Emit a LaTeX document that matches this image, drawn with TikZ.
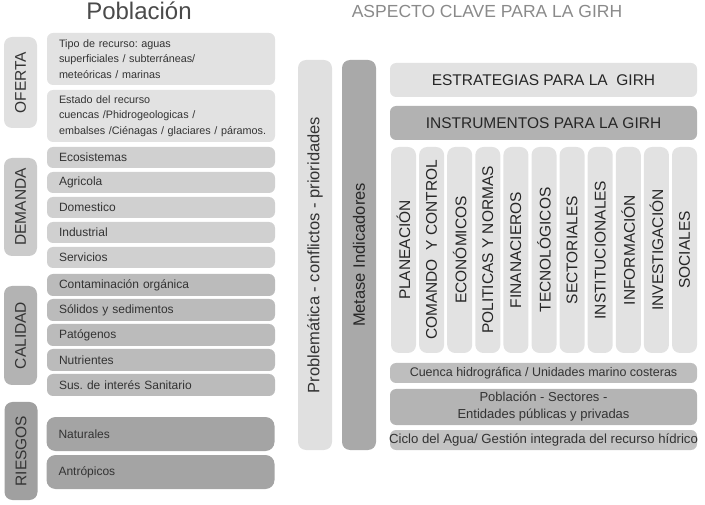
\documentclass[tikz,border=0pt]{standalone}
\usepackage{fontspec}
\setmainfont{Liberation Sans}
\frenchspacing
\definecolor{ofe}{HTML}{E2E2E2}
\definecolor{dem}{HTML}{D0D0D0}
\definecolor{cal}{HTML}{BBBBBB}
\definecolor{rie}{HTML}{A4A4A4}
\definecolor{lab1}{HTML}{E0E0E0}
\definecolor{lab2}{HTML}{CBCBCB}
\definecolor{lab3}{HTML}{B3B3B3}
\definecolor{lab4}{HTML}{A0A0A0}
\definecolor{metc}{HTML}{A9A9A9}
\definecolor{instc}{HTML}{B2B2B2}
\definecolor{cuen}{HTML}{BEBEBE}
\definecolor{pobc}{HTML}{B4B4B4}
\definecolor{cicl}{HTML}{C3C3C3}
\definecolor{txt}{HTML}{333333}
\definecolor{ttl}{HTML}{4A4A4A}
\definecolor{ttl2}{HTML}{8A8A8A}
\newcommand{\fs}[1]{\fontsize{#1}{#1}\selectfont}
\tikzset{
  bx/.style={rounded corners=6pt, inner sep=0pt, draw=none, text=txt},
  item/.style={bx, inner xsep=12pt, text width=204pt, align=left, minimum width=228pt, font=\fs{12}},
  multi/.style={item, font=\fontsize{10.8}{15.5}\selectfont},
  sidelab/.style={bx, rounded corners=8pt, rotate=90, minimum height=33pt, font=\fs{15.5}},
  bigcol/.style={bx, rounded corners=8pt, rotate=90, minimum width=390pt, minimum height=34pt, font=\fs{16.5}},
  wide/.style={bx, minimum width=307pt},
  icol/.style={bx, rounded corners=8pt, fill=ofe, rotate=90, minimum width=206pt, minimum height=25pt, font=\fs{15.5}, text=black!85}
}
\begin{document}
\begin{tikzpicture}[x=1pt, y=-1pt]
\useasboundingbox (0,0) rectangle (705,505);
% titles
\node[anchor=base, text=ttl, font=\fs{24}, inner sep=0pt] (tpob) at (139,19.5) {Población};
\node[anchor=base, text=ttl2, font=\fs{17.5}, inner sep=0pt] (tasp) at (487,18) {ASPECTO CLAVE PARA LA GIRH};
% left side labels
\node[sidelab, fill=lab1, minimum width=91pt] (oferta) at (20.5,82.5) {OFERTA};
\node[sidelab, fill=lab2, minimum width=98pt] (demanda) at (20.5,207) {DEMANDA};
\node[sidelab, fill=lab3, minimum width=99pt] (calidad) at (20.5,335.5) {CALIDAD};
\node[sidelab, fill=lab4, minimum width=98pt] (riesgos) at (21,451) {RIESGOS};
% oferta items
\node[multi, fill=ofe, minimum height=52pt] (tipo) at (161,59) {Tipo de recurso: aguas\\superficiales / subterráneas/\\meteóricas / marinas};
\node[multi, fill=ofe, minimum height=52pt] (estado) at (161,116) {Estado del recurso\\cuencas /Phidrogeologicas /\\\mbox{embalses /Ciénagas / glaciares / páramos.}};
% demanda items
\node[item, fill=dem, minimum height=21pt] (eco) at (161,157.5) {Ecosistemas};
\node[item, fill=dem, minimum height=21pt] (agr) at (161,182.5) {Agricola};
\node[item, fill=dem, minimum height=21pt] (dom) at (161,207.5) {Domestico};
\node[item, fill=dem, minimum height=21pt] (ind) at (161,232.5) {Industrial};
\node[item, fill=dem, minimum height=21pt] (ser) at (161,257.5) {Servicios};
% calidad items
\node[item, fill=cal, minimum height=22pt] (con) at (161,285) {Contaminación orgánica};
\node[item, fill=cal, minimum height=22pt] (sol) at (161,310) {Sólidos y sedimentos};
\node[item, fill=cal, minimum height=22pt] (pat) at (161,335) {Patógenos};
\node[item, fill=cal, minimum height=22pt] (nut) at (161,360) {Nutrientes};
\node[item, fill=cal, minimum height=22pt] (sus) at (161,385) {Sus. de interés Sanitario};
% riesgos items
\node[item, fill=rie, minimum height=34pt, rounded corners=9pt] (nat) at (160.5,434) {Naturales};
\node[item, fill=rie, minimum height=34pt, rounded corners=9pt] (ant) at (160.5,472) {Antrópicos};
% right big columns
\node[bigcol, fill=lab1] (prob) at (315,255) {Problemática - conflictos - prioridades};
\node[bigcol, fill=metc, text=black!85] (meta) at (359,255) {Metase Indicadores};
% strategies and instruments
\node[wide, fill=ofe, minimum height=34pt, font=\fs{15.5}, text=black!85] (estr) at (543.5,80) {ESTRATEGIAS PARA LA \ GIRH};
\node[wide, fill=instc, minimum height=34pt, font=\fs{15.5}, text=black!85] (inst) at (543.5,123) {INSTRUMENTOS PARA LA GIRH};
\foreach \t [count=\i from 0] in {PLANEACIÓN, COMANDO \ Y CONTROL, ECONÓMICOS, POLITICAS Y NORMAS, FINANACIEROS, TECNOLÓGICOS, SECTORIALES, INSTITUCIONALES, INFORMACIÓN, INVESTIGACIÓN, SOCIALES}
  \node[icol] (col\i) at ({403.5+28.1*\i},250) {\t};
% bottom bars
\node[wide, fill=cuen, minimum height=20pt, font=\fs{12.5}] (cuenca) at (543.5,373) {Cuenca hidrográfica / Unidades marino costeras};
\node[wide, fill=pobc, minimum height=36pt, align=center, font=\fontsize{13}{17}\selectfont] (pobsec) at (543.5,407) {Población - Sectores -\\Entidades públicas y privadas};
\node[wide, fill=cicl, minimum height=20pt, font=\fs{13.2}] (ciclo) at (543.5,440) {\makebox[0pt][c]{Ciclo del Agua/ Gestión integrada del recurso hídrico}};
\end{tikzpicture}
\end{document}
